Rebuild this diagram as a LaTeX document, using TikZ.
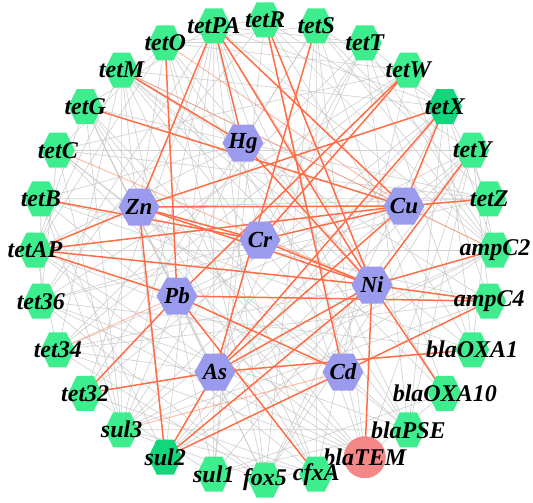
\documentclass[tikz,border=0pt]{standalone}
\usepackage{fontspec}
\setmainfont{Liberation Serif}
\pgfdeclarelayer{bg}
\pgfsetlayers{bg,main}
\definecolor{hexgreen}{RGB}{62,238,142}
\definecolor{hexgreendk}{RGB}{18,214,124}
\definecolor{metal}{RGB}{155,155,238}
\definecolor{temred}{RGB}{245,135,135}
\definecolor{edgeor}{RGB}{255,110,70}
\definecolor{edgegr}{RGB}{200,200,200}
\begin{document}
\begin{tikzpicture}[x=1pt,y=-1pt,
  lbl/.style={font=\fontsize{24}{24}\selectfont\bfseries\itshape, inner sep=0pt},
  mlbl/.style={font=\fontsize{23}{23}\selectfont\bfseries\itshape, inner sep=0pt},
  graylink/.style={draw=edgegr, line width=0.7pt, opacity=0.8},
  orlink/.style={draw=edgeor, line width=1.5pt},
  orfaint/.style={draw=edgeor, line width=1pt, opacity=0.45},
  pics/genehex/.style={code={\fill[#1] (-17,0) -- (-8.5,-17.5) -- (8.5,-17.5) -- (17,0) -- (8.5,17.5) -- (-8.5,17.5) -- cycle;}},
  pics/metalhex/.style={code={\fill[metal] (-20.5,0) -- (-10.25,-18.5) -- (10.25,-18.5) -- (20.5,0) -- (10.25,18.5) -- (-10.25,18.5) -- cycle;}}
]
\useasboundingbox (0,0) rectangle (533,503);
% outer ring of genes
\foreach \n [count=\i from 0] in {tetR,tetS,tetT,tetW,tetX,tetY,tetZ,ampC2,ampC4,blaOXA1,blaOXA10,blaPSE,blaTEM,cfxA,fox5,sul1,sul2,sul3,tet32,tet34,tet36,tetAP,tetB,tetC,tetG,tetM,tetO,tetPA}{
  \pgfmathsetmacro\ang{90-\i*360/28}
  \coordinate (g\i) at ({265+230*cos(\ang)},{250-230*sin(\ang)});
  \ifnum\i=12
    \fill[temred] (g\i) circle (21);
  \else
    \ifnum\i=4 \pic at (g\i) {genehex=hexgreendk};
    \else\ifnum\i=16 \pic at (g\i) {genehex=hexgreendk};
    \else \pic at (g\i) {genehex=hexgreen};
    \fi\fi
  \fi
  \node[lbl] (\n) at (g\i) {\n};
}
% metals
\foreach \n/\x/\y in {Hg/243/143, Zn/139/207, Cu/404/206, Cr/260/240, Ni/372/285, Pb/177/296, As/215/372, Cd/343/372}{
  \pic at (\x,\y) {metalhex};
  \node[mlbl] (\n) at (\x,\y) {\n};
}
\begin{pgfonlayer}{bg}
  \pgfmathsetseed{12345}
  \foreach \i in {0,...,25}{
    \pgfmathtruncatemacro\js{\i+2}
    \foreach \j in {\js,...,27}{
      \pgfmathsetmacro\rr{rnd}
      \ifdim\rr pt<0.34pt \draw[graylink] (g\i.center) -- (g\j.center); \fi
    }
  }
  \foreach \m in {Hg,Zn,Cu,Cr,Ni,Pb,As,Cd}{
    \foreach \i in {0,...,27}{
      \pgfmathsetmacro\rr{rnd}
      \ifdim\rr pt<0.14pt \draw[graylink] (\m.center) -- (g\i.center); \fi
    }
  }
  \foreach \a/\b in {tetC/Ni, tet34/Pb, Cd/sul3, Cu/ampC2, tetO/Cu, tetM/Cu}
    \draw[orfaint] (\a.center) -- (\b.center);
  \foreach \a/\b in {tetPA/Zn, tetPA/Hg, tetPA/Ni, tetPA/Cu, tetM/Hg, tetG/Cu, tetO/Pb,
    tetAP/Zn, tetAP/Pb, tetAP/Ni, tetAP/Cu, tetB/Cr, Zn/tetX, Zn/Cu, Zn/Ni, Zn/sul2, Zn/Cr,
    tetS/As, tetR/Ni, tetR/Cd, tetW/Cr, tetW/Pb, tetX/As, tetX/Cu, tetY/Ni, tetZ/Cu,
    Ni/ampC2, Ni/ampC4, Pb/ampC4, Ni/blaTEM, Ni/blaOXA10, As/blaOXA1, Pb/tet32, Pb/cfxA,
    Pb/Cd, As/tet32, As/sul2, As/Cu, As/Ni, Cd/sul2, sul2/Ni, Hg/Ni, Cr/Ni, Cu/Cr, Cd/ampC4}
    \draw[orlink] (\a.center) -- (\b.center);
\end{pgfonlayer}
\end{tikzpicture}
\end{document}
